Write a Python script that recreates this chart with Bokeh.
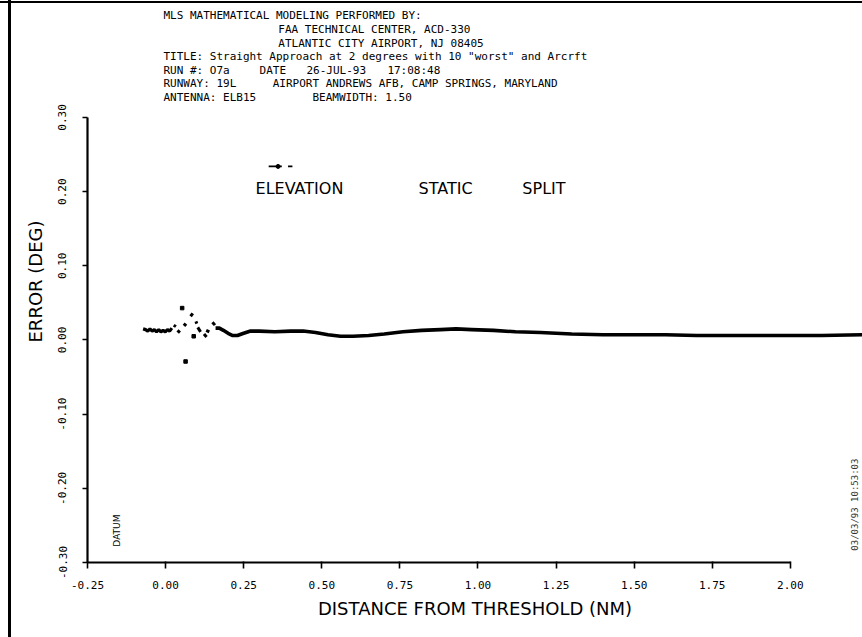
import math
from bokeh.plotting import figure
from bokeh.models import Label, FixedTicker, NumeralTickFormatter, Range1d
from bokeh.embed import file_html
from bokeh.resources import INLINE

# ---------------- data ----------------
x_ticks = [-0.25, 0.0, 0.25, 0.5, 0.75, 1.0, 1.25, 1.5, 1.75, 2.0]
y_ticks = [-0.3, -0.2, -0.1, 0.0, 0.1, 0.2, 0.3]

# early noisy part of the trace (continuous)
wiggle_x = [-0.072, -0.064, -0.057, -0.050, -0.043, -0.036, -0.029, -0.022,
            -0.015, -0.008, -0.001, 0.006, 0.013, 0.020]
wiggle_y = [0.015, 0.014, 0.012, 0.015, 0.012, 0.014, 0.011, 0.014,
            0.011, 0.013, 0.011, 0.014, 0.012, 0.016]

# scattered dashes of the trace
dash_x0 = [0.026, 0.038, 0.058, 0.080, 0.097, 0.103, 0.123, 0.130, 0.150]
dash_y0 = [0.020, 0.013, 0.022, 0.032, 0.025, 0.017, 0.008, 0.013, 0.024]
dash_x1 = [0.033, 0.046, 0.066, 0.087, 0.100, 0.112, 0.131, 0.140, 0.158]
dash_y1 = [0.018, 0.010, 0.019, 0.036, 0.022, 0.011, 0.004, 0.011, 0.020]
dot_x = [0.053, 0.064, 0.090]
dot_y = [0.043, -0.029, 0.005]

# main trace
curve_x = [0.160, 0.172, 0.185, 0.200, 0.215, 0.230, 0.250, 0.272, 0.300, 0.350,
           0.400, 0.440, 0.480, 0.520, 0.560, 0.600, 0.650, 0.700, 0.760, 0.820,
           0.880, 0.930, 0.980, 1.050, 1.120, 1.200, 1.300, 1.400, 1.500, 1.600,
           1.700, 1.800, 1.900, 2.000, 2.100, 2.235]
curve_y = [0.016, 0.016, 0.013, 0.009, 0.006, 0.006, 0.009, 0.012, 0.012, 0.011,
           0.012, 0.012, 0.010, 0.007, 0.005, 0.005, 0.006, 0.008, 0.011, 0.013,
           0.014, 0.015, 0.014, 0.013, 0.011, 0.010, 0.008, 0.007, 0.007, 0.007,
           0.006, 0.006, 0.006, 0.006, 0.006, 0.007]

# key symbol near the plot title
key_line_x = [0.330, 0.372]
key_line_y = [0.234, 0.234]
key_dot_x = [0.360]
key_dot_y = [0.234]
key_dash_x = [0.392, 0.406]
key_dash_y = [0.234, 0.234]

header_rows = [
    [("MLS MATHEMATICAL MODELING PERFORMED BY:", -0.007)],
    [("FAA TECHNICAL CENTER, ACD-330", 0.361)],
    [("ATLANTIC CITY AIRPORT, NJ 08405", 0.361)],
    [('TITLE: Straight Approach at 2 degrees with 10 "worst" and Arcrft', -0.007)],
    [("RUN #: O7a", -0.007), ("DATE", 0.301), ("26-JUL-93", 0.451), ("17:08:48", 0.710)],
    [("RUNWAY: 19L", -0.007), ("AIRPORT ANDREWS AFB, CAMP SPRINGS, MARYLAND", 0.343)],
    [("ANTENNA: ELB15", -0.007), ("BEAMWIDTH: 1.50", 0.470)],
]
plot_title_words = ["ELEVATION", "STATIC", "SPLIT"]
plot_title_x = [0.288, 0.810, 1.142]

# ---------------- figure ----------------
W, H = 862, 637
p = figure(width=W, height=H, output_backend="svg", toolbar_location=None,
           x_range=Range1d(-0.25, 2.231), y_range=Range1d(-0.30, 0.4577),
           min_border=0, min_border_left=87, min_border_bottom=75,
           min_border_top=0, min_border_right=0)
p.background_fill_color = None
p.border_fill_color = None
p.outline_line_color = None
p.xgrid.visible = False
p.ygrid.visible = False
# scanned-page border (left and top edges) drawn behind the transparent canvas
p.styles = {
    "background": ("linear-gradient(to bottom, transparent 1px, black 1px, black 3.5px, "
                   "transparent 3.5px), linear-gradient(to right, white 8px, black 8px, "
                   "black 10.5px, white 10.5px)"),
}

mono = "DejaVu Sans Mono"
sans = "DejaVu Sans"

for ax in (p.xaxis[0], p.yaxis[0]):
    ax.axis_line_width = 2.2
    ax.axis_line_color = "black"
    ax.major_tick_line_width = 1.6
    ax.major_tick_line_color = "black"
    ax.minor_tick_line_color = None
    ax.major_label_text_font = mono
    ax.major_label_text_font_size = "11px"
    ax.major_label_text_color = "black"
    ax.axis_label_text_font = sans
    ax.axis_label_text_font_style = "normal"
    ax.axis_label_text_font_size = "18px"
    ax.axis_label_text_color = "black"

xa = p.xaxis[0]
xa.ticker = FixedTicker(ticks=x_ticks)
xa.formatter = NumeralTickFormatter(format="0.00")
xa.bounds = (-0.25, 2.0)
xa.major_tick_in = 1
xa.major_tick_out = 6
xa.major_label_standoff = 12
xa.axis_label = "DISTANCE FROM THRESHOLD (NM)"
xa.axis_label_standoff = 6

ya = p.yaxis[0]
ya.ticker = FixedTicker(ticks=y_ticks)
ya.formatter = NumeralTickFormatter(format="0.00")
ya.bounds = (-0.30, 0.30)
ya.major_tick_in = 0
ya.major_tick_out = 5
ya.major_label_orientation = "vertical"
ya.major_label_standoff = 16
ya.axis_label = "ERROR (DEG)"
ya.axis_label_standoff = 10

# ---------------- marks ----------------
p.line(wiggle_x, wiggle_y, line_color="black", line_width=3.2)
p.segment(dash_x0, dash_y0, dash_x1, dash_y1, line_color="black", line_width=3)
p.scatter(dot_x, dot_y, marker="square", size=3.5, color="black")
p.line(curve_x, curve_y, line_color="black", line_width=3.6, line_join="round")

p.line(key_line_x, key_line_y, line_color="black", line_width=1.6)
p.scatter(key_dot_x, key_dot_y, marker="circle", size=4, color="black")
p.line(key_dash_x, key_dash_y, line_color="black", line_width=1.6)

# ---------------- texts ----------------
row_top = 0.437
row_step = 0.0183
for i, row in enumerate(header_rows):
    for txt, xpos in row:
        p.add_layout(Label(x=xpos, y=row_top - i * row_step, text=txt,
                           text_font=mono, text_font_size="11px",
                           text_color="black", text_align="left",
                           text_baseline="middle"))

for word, xpos in zip(plot_title_words, plot_title_x):
    p.add_layout(Label(x=xpos, y=0.204, text=word, text_font=sans,
                       text_font_size="16px", text_color="black",
                       text_align="left", text_baseline="middle"))

p.add_layout(Label(x=-0.157, y=-0.257, text="DATUM", text_font=sans,
                   text_font_size="9px", text_color="black", angle=math.pi / 2,
                   text_align="center", text_baseline="middle"))

p.add_layout(Label(x=2.207, y=-0.222, text="03/03/93 10:53:03", text_font=mono,
                   text_font_size="9px", text_color="#333333", angle=math.pi / 2,
                   text_align="center", text_baseline="middle"))

open("out.html", "w").write(file_html(p, INLINE))
